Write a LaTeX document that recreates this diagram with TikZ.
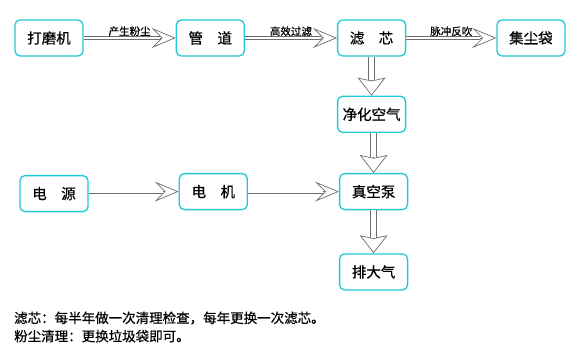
\documentclass[tikz,border=0pt]{standalone}
\usepackage{fontspec}
\newfontfamily\cjk[FakeBold=0.6]{Noto Sans CJK SC}
\usetikzlibrary{arrows.meta,positioning}
\definecolor{boxcyan}{RGB}{34,200,214}
\definecolor{flowgray}{RGB}{110,110,110}

\tikzset{
    box/.style={draw=boxcyan, line width=1.3pt, rounded corners=5pt, fill=white,
        minimum width=68pt, minimum height=36pt, inner sep=2pt,
        font=\cjk\fontsize{14.5}{16}\selectfont},
    flow/.style={draw=flowgray, line width=0.7pt,
        -{Stealth[open, fill=white, length=24pt, width=20pt, inset=10pt]},
        postaction={draw=flowgray, -, double=white, double distance=2.6pt, shorten >=16pt}},
    down/.style={draw=flowgray, line width=0.7pt,
        -{Stealth[open, fill=white, length=18pt, width=28pt, inset=3pt]},
        postaction={draw=flowgray, -, double=white, double distance=5.2pt, shorten >=15.5pt}},
    lbl/.style={font=\cjk\fontsize{10.5}{12}\selectfont, above, inner sep=1.5pt},
}

\begin{document}
\begin{tikzpicture}[x=1pt, y=-1pt, node distance=92pt]
    \useasboundingbox (0,0) rectangle (575,350);

    \node[box] (grinder) at (49,38) {打磨机};
    \node[box, right=of grinder] (pipe) {管\quad 道};
    \node[box, right=of pipe] (filter) {滤\quad 芯};
    \node[box, right=90pt of filter] (bag) {集尘袋};
    \node[box, below=39pt of filter] (clean) {净化空气};
    \node[box, below=40pt of clean, xshift=2pt] (pump) {真空泵};
    \node[box, below=43pt of pump] (exhaust) {排大气};
    \node[box, left=91pt of pump] (motor) {电\quad 机};
    \node[box, left=90pt of motor, yshift=-2pt] (power) {电\quad 源};

    \draw[flow] (grinder) -- (pipe) node[lbl, midway] {产生粉尘};
    \draw[flow] (pipe) -- (filter) node[lbl, midway] {高效过滤};
    \draw[flow] (filter) -- (bag) node[lbl, midway] {脉冲反吹};
    \draw[down] (filter) -- (clean);
    \draw[down] (clean.south -| pump) -- (pump);
    \draw[down] (pump) -- (exhaust);
    \draw[flow] (power.east |- motor) -- (motor);
    \draw[flow] (motor) -- (pump);

    % notes
    \node[anchor=west, font=\cjk\fontsize{13.5}{15}\selectfont, inner sep=0pt] (note1) at (14,318)
        {滤芯：每半年做一次清理检查，每年更换一次滤芯。};
    \node[font=\cjk\fontsize{13.5}{15}\selectfont, inner sep=0pt, below=5pt of note1.south west, anchor=north west] (note2)
        {粉尘清理：更换垃圾袋即可。};
\end{tikzpicture}
\end{document}
